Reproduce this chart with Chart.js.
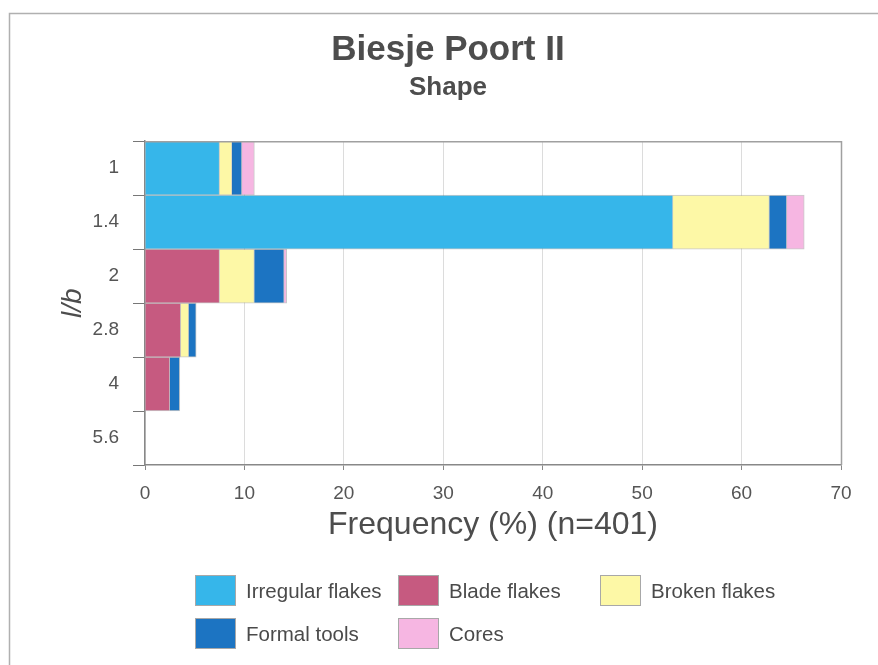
<!DOCTYPE html>
<html>
<head>
<meta charset="utf-8">
<script src="https://cdn.jsdelivr.net/npm/chart.js@4/dist/chart.umd.min.js"></script>
<style>
  body { margin: 0; background: #fff; font-family: 'Liberation Sans', Arial, sans-serif; }
  #wrap { position: relative; width: 878px; height: 665px; }
  #legend { position: absolute; left: 0; top: 0; width: 878px; height: 665px; pointer-events: none; }
  .item { position: absolute; display: flex; align-items: center; }
  .box { width: 41px; height: 31px; border: 1px solid #a8a8a8; box-sizing: border-box; }
  .lbl { margin-left: 10px; font-size: 20.5px; color: #4a4a4a; }
</style>
</head>
<body>
<div id="wrap">
  <canvas id="shapeChart" width="878" height="665"></canvas>
  <div id="legend"></div>
</div>
<script>
// l/b classes
const categories = ['1', '1.4', '2', '2.8', '4', '5.6'];

// frequency (%) per class, n=401
const irregularFlakes = [7.5, 53.1, 0, 0, 0, 0];
const bladeFlakes     = [0, 0, 7.5, 3.6, 2.5, 0];
const brokenFlakes    = [1.25, 9.7, 3.5, 0.8, 0, 0];
const formalTools     = [1.0, 1.75, 3.0, 0.75, 1.0, 0];
const cores           = [1.25, 1.75, 0.25, 0, 0, 0];

const seriesNames = ['Irregular flakes', 'Blade flakes', 'Broken flakes', 'Formal tools', 'Cores'];
const seriesColors = ['#36b6ea', '#c65a80', '#fdf8a6', '#1c74c2', '#f6b6e2'];
const seriesData = [irregularFlakes, bladeFlakes, brokenFlakes, formalTools, cores];

const gray = '#4d4d4d';
const font = "'Liberation Sans', Arial, sans-serif";

// outer frame + plot box
const framePlugin = {
    id: 'frame',
    beforeDraw(chart) {
        const ctx = chart.ctx;
        ctx.save();
        ctx.fillStyle = '#fff';
        ctx.fillRect(0, 0, chart.width, chart.height);
        ctx.strokeStyle = '#b0b0b0';
        ctx.lineWidth = 1.5;
        ctx.beginPath();
        ctx.moveTo(9.5, chart.height);
        ctx.lineTo(9.5, 13.5);
        ctx.lineTo(chart.width, 13.5);
        ctx.stroke();
        ctx.restore();
    },
    afterDraw(chart) {
        const { ctx, chartArea: a } = chart;
        ctx.save();
        ctx.strokeStyle = '#a0a0a0';
        ctx.lineWidth = 1.5;
        ctx.beginPath();
        ctx.moveTo(a.left, a.top + 0.5);
        ctx.lineTo(a.right + 0.5, a.top + 0.5);
        ctx.lineTo(a.right + 0.5, a.bottom);
        ctx.stroke();
        ctx.restore();
    }
};

const ctx = document.getElementById('shapeChart').getContext('2d');

const chart = new Chart(ctx, {
    type: 'bar',
    data: {
        labels: categories,
        datasets: seriesNames.map((name, i) => ({
            label: name,
            data: seriesData[i],
            backgroundColor: seriesColors[i],
            borderColor: 'rgba(100,100,100,0.35)',
            borderWidth: 1,
            barPercentage: 1,
            categoryPercentage: 1,
        })),
    },
    options: {
        indexAxis: 'y',
        responsive: false,
        animation: false,
        layout: { padding: { left: 55, right: 37, top: 0, bottom: 120 } },
        plugins: {
            legend: { display: false },
            tooltip: { enabled: false },
            title: {
                display: true,
                text: 'Biesje Poort II',
                color: gray,
                font: { family: font, size: 35, weight: 'bold' },
                padding: { top: 29, bottom: 0 },
            },
            subtitle: {
                display: true,
                text: 'Shape',
                color: gray,
                font: { family: font, size: 26, weight: 'bold' },
                padding: { top: 1, bottom: 38 },
            },
        },
        scales: {
            x: {
                stacked: true,
                min: 0,
                max: 70,
                ticks: { stepSize: 10, color: '#555', padding: 12, font: { family: font, size: 19 } },
                grid: { color: '#dcdcdc', tickColor: '#888', tickLength: 5 },
                border: { color: '#888', width: 1.5 },
                title: {
                    display: true,
                    text: 'Frequency (%) (n=401)',
                    color: gray,
                    font: { family: font, size: 32 },
                    padding: { top: 0, bottom: 1 },
                },
                afterFit: s => { s.height = 80; },
            },
            y: {
                stacked: true,
                ticks: { color: '#555', padding: 14, font: { family: font, size: 19 } },
                grid: { drawOnChartArea: false, offset: true, tickColor: '#777', tickLength: 12 },
                border: { color: '#888', width: 1.5 },
                title: {
                    display: true,
                    text: 'l/b',
                    color: gray,
                    font: { family: font, size: 28, style: 'italic' },
                    padding: { top: 1, bottom: 0 },
                },
                afterFit: s => { s.width = 90; },
            },
        },
    },
    plugins: [framePlugin],
});

// legend laid out in three columns like the original
const legendPos = [[195, 575], [398, 575], [600, 575], [195, 618], [398, 618]];
const legendEl = document.getElementById('legend');
chart.data.datasets.forEach((ds, i) => {
    const item = document.createElement('div');
    item.className = 'item';
    item.style.left = legendPos[i][0] + 'px';
    item.style.top = legendPos[i][1] + 'px';
    item.innerHTML = '<div class="box" style="background:' + ds.backgroundColor + '"></div><span class="lbl">' + ds.label + '</span>';
    legendEl.appendChild(item);
});
</script>
</body>
</html>
